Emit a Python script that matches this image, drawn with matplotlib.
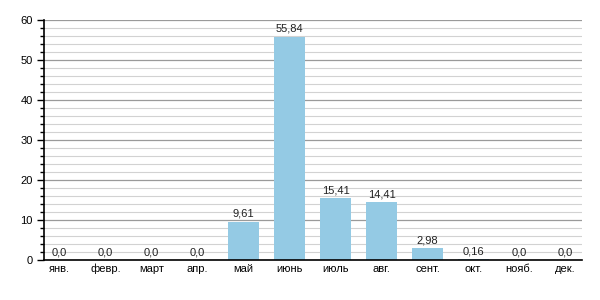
import numpy as np
import matplotlib.pyplot as plt
from matplotlib.ticker import MultipleLocator

plt.rcParams['font.family'] = ['Liberation Sans', 'DejaVu Sans']

# данные
months = ['янв.', 'февр.', 'март', 'апр.', 'май', 'июнь', 'июль', 'авг.', 'сент.', 'окт.', 'нояб.', 'дек.']
values = [0.0, 0.0, 0.0, 0.0, 9.61, 55.84, 15.41, 14.41, 2.98, 0.16, 0.0, 0.0]


def fmt(v):
    if v == 0:
        return '0,0'
    return f'{v:.2f}'.replace('.', ',')


fig = plt.figure(figsize=(6, 3), dpi=100)
ax = fig.add_axes([0.0733, 0.1333, 0.8967, 0.8])

x = np.arange(len(months))
ax.bar(x, values, width=0.67, color='#94cae4', zorder=3)

for xi, v in zip(x, values):
    ax.annotate(fmt(v), xy=(xi, v), xytext=(0, 2), textcoords='offset points',
                ha='center', va='bottom', fontsize=8, color='#222222', zorder=4)

# категории смещены влево относительно оси
ax.set_xlim(-0.34, len(months) - 0.64)
ax.set_ylim(0, 60)
ax.set_xticks(x)
ax.set_xticklabels(months, fontsize=8, va='baseline')
ax.yaxis.set_major_locator(MultipleLocator(10))
ax.yaxis.set_minor_locator(MultipleLocator(2))
ax.tick_params(axis='y', which='major', length=5, width=1, labelsize=8, pad=3)
ax.tick_params(axis='y', which='minor', length=3, width=1)
ax.tick_params(axis='x', length=0, labelsize=8, pad=8.6)

ax.grid(True, axis='y', which='major', color='#9a9a9a', linewidth=0.9, zorder=1)
ax.grid(True, axis='y', which='minor', color='#d2d2d2', linewidth=0.8, zorder=1)

for s in ['top', 'right']:
    ax.spines[s].set_visible(False)
ax.spines['left'].set_linewidth(1.2)
ax.spines['bottom'].set_linewidth(1.2)
ax.spines['bottom'].set_zorder(5)

fig.savefig('out.png', dpi=100)
